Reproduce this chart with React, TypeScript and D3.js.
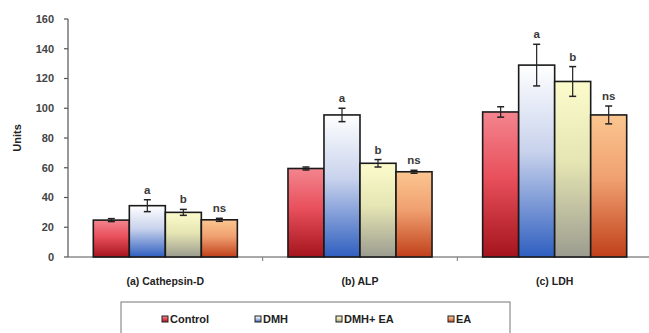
import React from "react";
import * as d3 from "d3";

const categories = ["(a) Cathepsin-D", "(b) ALP", "(c) LDH"];
const groups = ["Control", "DMH", "DMH+ EA", "EA"];
// values per group, in category order
const controlVals = [24.8, 59.5, 97.5];
const dmhVals = [34.5, 95.5, 129];
const dmhEaVals = [30, 63, 118];
const eaVals = [25, 57.3, 95.5];
const controlErr = [1, 1, 3.5];
const dmhErr = [4, 4.5, 14];
const dmhEaErr = [2, 2.5, 10];
const eaErr = [1, 1, 6];
const sigLabels = ["", "a", "b", "ns"];
const yTicks = [0, 20, 40, 60, 80, 100, 120, 140, 160];

const seriesVals = [controlVals, dmhVals, dmhEaVals, eaVals];
const seriesErr = [controlErr, dmhErr, dmhEaErr, eaErr];
const gradStops = [
  ["#f3858e", "#e8505c", "#a5141c"],
  ["#ffffff", "#c8d2ec", "#2f5fc0"],
  ["#fbfbcc", "#e6e6b4", "#9c9c90"],
  ["#fbc690", "#f0a070", "#c0401a"],
];

const W = 649, H = 333;
const left = 68, right = 652, top = 19, bottom = 257;

export default function App() {
  const x = d3.scaleBand<string>().domain(categories).range([left, right]).paddingInner(0.26).paddingOuter(0.13);
  const xs = d3.scaleBand<string>().domain(groups).range([0, x.bandwidth()]);
  const y = d3.scaleLinear().domain([0, 160]).range([bottom, top]);
  const font = "Arial, 'Liberation Sans', sans-serif";
  const step = x.step();

  return (
    <svg width={W} height={H} style={{ position: "absolute", left: 0, top: 0, background: "#fff" }}>
      <defs>
        {gradStops.map((s, i) => (
          <linearGradient key={i} id={`g${i}`} x1="0" y1="0" x2="0" y2="1">
            <stop offset="0%" stopColor={s[0]} />
            <stop offset="45%" stopColor={s[1]} />
            <stop offset="100%" stopColor={s[2]} />
          </linearGradient>
        ))}
      </defs>
      {/* y axis */}
      <line x1={left} x2={left} y1={top} y2={bottom} stroke="#555" strokeWidth={1.2} />
      {yTicks.map((t) => (
        <g key={t}>
          <line x1={left - 4} x2={left} y1={y(t)} y2={y(t)} stroke="#555" strokeWidth={1.2} />
          <text x={left - 14} y={y(t)} dy="0.35em" textAnchor="end" fontFamily={font} fontWeight="bold" fontSize={11} fill="#444">{t}</text>
        </g>
      ))}
      <text transform={`translate(21,${(top + bottom) / 2}) rotate(-90)`} textAnchor="middle" fontFamily={font} fontWeight="bold" fontSize={11} fill="#222">Units</text>
      {/* x axis */}
      <line x1={left} x2={W} y1={bottom} y2={bottom} stroke="#555" strokeWidth={1.2} />
      {categories.slice(1).map((c) => (
        <line key={c} x1={x(c)! - (step - x.bandwidth()) / 2} x2={x(c)! - (step - x.bandwidth()) / 2} y1={bottom} y2={bottom + 4} stroke="#777" />
      ))}
      {categories.map((c) => (
        <text key={c} x={x(c)! + x.bandwidth() / 2} y={285} textAnchor="middle" fontFamily={font} fontWeight="bold" fontSize={10.5} fill="#222">{c}</text>
      ))}
      {/* bars */}
      {categories.map((c, ci) => (
        <g key={c} transform={`translate(${x(c)},0)`}>
          {groups.map((g, gi) => {
            const v = seriesVals[gi][ci];
            const e = seriesErr[gi][ci];
            const bx = xs(g)!;
            const cx = bx + xs.bandwidth() / 2;
            return (
              <g key={g}>
                <rect x={bx} y={y(v)} width={xs.bandwidth()} height={bottom - y(v)} fill={`url(#g${gi})`} stroke="#1a1a1a" strokeWidth={1.6} />
                <line x1={cx} x2={cx} y1={y(v + e)} y2={y(v - e)} stroke="#222" strokeWidth={1.2} />
                <line x1={cx - 3.5} x2={cx + 3.5} y1={y(v + e)} y2={y(v + e)} stroke="#222" strokeWidth={1.5} />
                <line x1={cx - 3.5} x2={cx + 3.5} y1={y(v - e)} y2={y(v - e)} stroke="#222" strokeWidth={1.5} />
                {sigLabels[gi] && (
                  <text x={cx} y={y(v + e) - 6} textAnchor="middle" fontFamily={font} fontWeight="bold" fontSize={11.5} fill="#3a3a3a">{sigLabels[gi]}</text>
                )}
              </g>
            );
          })}
        </g>
      ))}
      {/* legend */}
      <rect x={121} y={302} width={389} height={40} fill="#fff" stroke="#777" strokeWidth={1} />
      {groups.map((g, gi) => {
        const lx = [162, 255, 336, 448][gi];
        return (
          <g key={g}>
            <rect x={lx} y={316} width={6} height={6} fill={`url(#g${gi})`} stroke="#222" strokeWidth={1} />
            <text x={lx + 8} y={323} fontFamily={font} fontWeight="bold" fontSize={11} fill="#222">{g}</text>
          </g>
        );
      })}
    </svg>
  );
}
